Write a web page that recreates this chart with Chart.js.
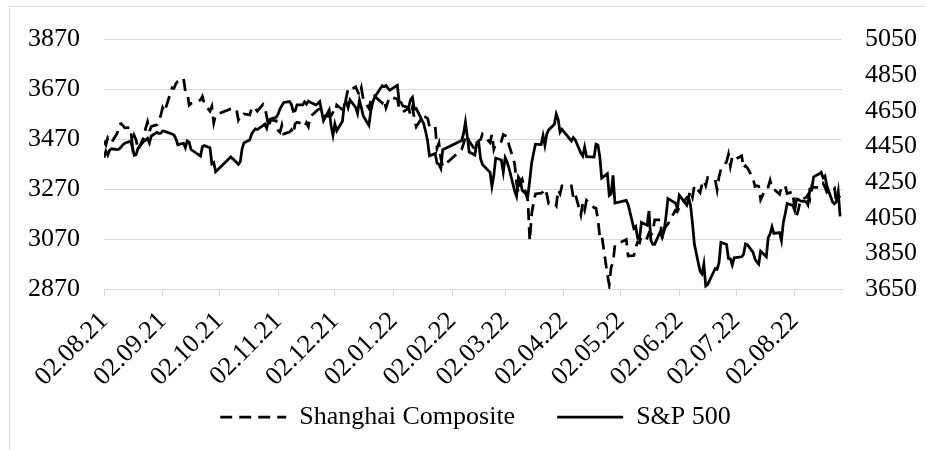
<!DOCTYPE html>
<html>
<head>
<meta charset="utf-8">
<script src="https://cdn.jsdelivr.net/npm/chart.js@4.4.1/dist/chart.umd.min.js"></script>
<style>
  html, body { margin: 0; padding: 0; background: #fff; }
  #wrap { width: 925px; height: 450px; }
</style>
</head>
<body>
<div id="wrap"><canvas id="myChart" width="925" height="450"></canvas></div>
<script>
// trading days where both markets were open (dd.mm.yy)
var dates = [
  '02.08.21','03.08.21','04.08.21','05.08.21','06.08.21','09.08.21','10.08.21','11.08.21','12.08.21','13.08.21','16.08.21','17.08.21','18.08.21','19.08.21','20.08.21','23.08.21','24.08.21','25.08.21','26.08.21','27.08.21','30.08.21','31.08.21',
  '01.09.21','02.09.21','03.09.21','07.09.21','08.09.21','09.09.21','10.09.21','13.09.21','14.09.21','15.09.21','16.09.21','17.09.21','22.09.21','23.09.21','24.09.21','27.09.21','28.09.21','29.09.21','30.09.21',
  '08.10.21','11.10.21','12.10.21','13.10.21','14.10.21','15.10.21','18.10.21','19.10.21','20.10.21','21.10.21','22.10.21','25.10.21','26.10.21','27.10.21','28.10.21','29.10.21',
  '01.11.21','02.11.21','03.11.21','04.11.21','05.11.21','08.11.21','09.11.21','10.11.21','11.11.21','12.11.21','15.11.21','16.11.21','17.11.21','18.11.21','19.11.21','22.11.21','23.11.21','24.11.21','26.11.21','29.11.21','30.11.21',
  '01.12.21','02.12.21','03.12.21','06.12.21','07.12.21','08.12.21','09.12.21','10.12.21','13.12.21','14.12.21','15.12.21','16.12.21','17.12.21','20.12.21','21.12.21','22.12.21','23.12.21','27.12.21','28.12.21','29.12.21','30.12.21','31.12.21',
  '04.01.22','05.01.22','06.01.22','07.01.22','10.01.22','11.01.22','12.01.22','13.01.22','14.01.22','18.01.22','19.01.22','20.01.22','21.01.22','24.01.22','25.01.22','26.01.22','27.01.22','28.01.22',
  '07.02.22','08.02.22','09.02.22','10.02.22','11.02.22','14.02.22','15.02.22','16.02.22','17.02.22','18.02.22','22.02.22','23.02.22','24.02.22','25.02.22','28.02.22',
  '01.03.22','02.03.22','03.03.22','04.03.22','07.03.22','08.03.22','09.03.22','10.03.22','11.03.22','14.03.22','15.03.22','16.03.22','17.03.22','18.03.22','21.03.22','22.03.22','23.03.22','24.03.22','25.03.22','28.03.22','29.03.22','30.03.22','31.03.22',
  '01.04.22','06.04.22','07.04.22','08.04.22','11.04.22','12.04.22','13.04.22','14.04.22','18.04.22','19.04.22','20.04.22','21.04.22','22.04.22','25.04.22','26.04.22','27.04.22','28.04.22','29.04.22',
  '05.05.22','06.05.22','09.05.22','10.05.22','11.05.22','12.05.22','13.05.22','16.05.22','17.05.22','18.05.22','19.05.22','20.05.22','23.05.22','24.05.22','25.05.22','26.05.22','27.05.22','31.05.22',
  '01.06.22','02.06.22','06.06.22','07.06.22','08.06.22','09.06.22','10.06.22','13.06.22','14.06.22','15.06.22','16.06.22','17.06.22','21.06.22','22.06.22','23.06.22','24.06.22','27.06.22','28.06.22','29.06.22','30.06.22',
  '01.07.22','05.07.22','06.07.22','07.07.22','08.07.22','11.07.22','12.07.22','13.07.22','14.07.22','15.07.22','18.07.22','19.07.22','20.07.22','21.07.22','22.07.22','25.07.22','26.07.22','27.07.22','28.07.22','29.07.22',
  '01.08.22','02.08.22','03.08.22','04.08.22','05.08.22','08.08.22','09.08.22','10.08.22','11.08.22','12.08.22','15.08.22','16.08.22','17.08.22','18.08.22','19.08.22','22.08.22','23.08.22','24.08.22','25.08.22','26.08.22'
];

var shanghai = [
  3464,3448,3477,3467,3458,3495,3530,3533,3525,3516,3517,3447,3485,3466,3427,3477,3514,3540,3502,3522,3528,3544,
  3567,3597,3581,3677,3675,3693,3703,3715,3663,3656,3607,3614,3628,3642,3613,3583,3602,3536,3568,
  3592,3591,3547,3561,3558,3572,3568,3594,3588,3595,3583,3610,3598,3562,3519,3547,
  3545,3506,3498,3527,3492,3499,3508,3492,3533,3539,3533,3522,3537,3521,3561,3582,3589,3592,3564,3562,3564,
  3577,3573,3608,3589,3595,3637,3673,3667,3681,3662,3648,3676,3632,3594,3625,3623,3643,3616,3630,3597,3620,3640,
  3632,3595,3586,3580,3594,3567,3598,3555,3521,3569,3558,3555,3522,3525,3434,3455,3394,3361,
  3429,3453,3480,3485,3462,3429,3446,3465,3469,3491,3457,3490,3430,3451,3462,
  3489,3485,3482,3448,3373,3294,3256,3296,3310,3224,3064,3171,3216,3251,3254,3260,3272,3250,3212,3215,3204,3267,3252,
  3283,3283,3237,3252,3167,3213,3187,3226,3196,3194,3151,3080,3087,2929,2886,2958,2975,3047,
  3068,3002,3004,3036,3059,3055,3084,3074,3094,3086,3097,3147,3147,3071,3107,3123,3130,3186,
  3182,3196,3237,3241,3264,3239,3285,3256,3289,3305,3285,3317,3307,3267,3320,3350,3380,3410,3362,3399,
  3388,3404,3355,3364,3356,3314,3281,3284,3282,3228,3278,3279,3305,3272,3270,3250,3277,3276,3283,3253,
  3260,3186,3164,3189,3227,3237,3248,3230,3282,3277,3277,3278,3293,3278,3258,3278,3277,3215,3246,3236
];

var sp500 = [
  4387,4423,4402,4429,4437,4432,4436,4447,4460,4468,4479,4448,4400,4405,4441,4479,4486,4496,4470,4509,4529,4523,
  4524,4537,4535,4520,4514,4493,4459,4469,4443,4481,4474,4433,4396,4449,4455,4443,4353,4360,4308,
  4391,4361,4350,4364,4438,4471,4486,4520,4537,4549,4545,4567,4575,4552,4596,4605,
  4614,4631,4660,4680,4697,4702,4686,4647,4650,4683,4683,4701,4688,4705,4698,4683,4691,4702,4595,4655,4567,
  4513,4577,4538,4592,4686,4701,4668,4712,4669,4635,4710,4669,4621,4568,4649,4697,4726,4791,4786,4793,4778,4766,
  4793,4701,4696,4677,4670,4713,4726,4659,4663,4577,4533,4483,4398,4410,4357,4350,4327,4432,
  4484,4522,4587,4504,4419,4402,4472,4475,4381,4349,4305,4226,4288,4385,4374,
  4306,4387,4364,4329,4201,4171,4278,4260,4204,4173,4262,4358,4412,4463,4461,4512,4456,4520,4543,4575,4632,4602,4530,
  4546,4481,4500,4488,4413,4397,4447,4393,4391,4463,4459,4394,4272,4297,4175,4184,4288,4132,
  4147,4123,3991,4001,3935,3930,4024,4008,4088,3923,3901,3901,3974,3941,3979,4058,4158,4132,
  4101,4177,4121,4161,4116,4018,3901,3750,3735,3790,3667,3675,3765,3760,3796,3912,3900,3822,3819,3785,
  3825,3831,3845,3903,3899,3855,3819,3802,3790,3863,3831,3937,3960,3999,3962,3967,3921,4024,4072,4130,
  4119,4091,4155,4152,4145,4140,4122,4210,4208,4280,4297,4305,4274,4284,4228,4138,4128,4141,4199,4058
];

var tickLabels = ['02.08.21','02.09.21','02.10.21','02.11.21','02.12.21','02.01.22','02.02.22',
                  '02.03.22','02.04.22','02.05.22','02.06.22','02.07.22','02.08.22'];
var seriesNames = ['Shanghai Composite', 'S&P 500'];
var leftRange = [2870, 3870];
var rightRange = [3650, 5050];
var yStep = 200;

// days since the first date, so the x axis is a real date axis
function dayIndex(s) {
  var p = s.split('.');
  return Math.round((Date.UTC(2000 + +p[2], p[1] - 1, +p[0]) - Date.UTC(2021, 7, 2)) / 86400000);
}

var xs = dates.map(dayIndex);
var tickDays = tickLabels.map(dayIndex);
var shPoints = xs.map(function (x, i) { return {x: x, y: shanghai[i]}; });
var spPoints = xs.map(function (x, i) { return {x: x, y: sp500[i]}; });

var FONT = "'Liberation Serif', 'Times New Roman', serif";
Chart.defaults.font.family = FONT;
Chart.defaults.font.size = 26;
Chart.defaults.color = '#000';

var frame = {
  id: 'frame',
  beforeDraw: function (chart) {
    var c = chart.ctx;
    c.save();
    c.fillStyle = '#fff';
    c.fillRect(0, 0, chart.width, chart.height);
    c.strokeStyle = '#d9d9d9';
    c.lineWidth = 1;
    c.strokeRect(9.5, 6.5, chart.width + 10, chart.height + 10);
    c.restore();
  }
};

// the x axis needs room for the slanted dates, so pull the legend up under them
var legendLift = {
  id: 'legendLift',
  afterLayout: function (chart) {
    chart.legend.top -= 35;
  }
};

var ctx = document.getElementById('myChart');
new Chart(ctx, {
  type: 'line',
  data: {
    datasets: [{
      label: seriesNames[0],
      data: shPoints,
      yAxisID: 'y',
      borderColor: '#000',
      borderWidth: 2.75,
      borderDash: [12, 7],
      pointRadius: 0,
      tension: 0,
      fill: false
    }, {
      label: seriesNames[1],
      data: spPoints,
      yAxisID: 'y1',
      borderColor: '#000',
      borderWidth: 2.75,
      pointRadius: 0,
      tension: 0,
      fill: false
    }]
  },
  options: {
    responsive: false,
    animation: false,
    layout: { padding: { left: 26, right: 0, top: 36, bottom: 0 } },
    plugins: {
      tooltip: { enabled: false },
      legend: {
        position: 'bottom',
        maxHeight: 53,
        labels: {
          usePointStyle: true,
          pointStyleWidth: 66,
          padding: 42,
          color: '#000',
          font: { size: 26 },
          generateLabels: function (chart) {
            return chart.data.datasets.map(function (ds, i) {
              return {
                text: ds.label,
                fillStyle: ds.borderColor,
                strokeStyle: ds.borderColor,
                lineWidth: ds.borderWidth,
                lineDash: ds.borderDash || [],
                pointStyle: 'line',
                fontColor: '#000',
                hidden: false,
                datasetIndex: i
              };
            });
          }
        }
      }
    },
    scales: {
      x: {
        type: 'linear',
        min: 0,
        max: xs[xs.length - 1] + 1,
        afterBuildTicks: function (scale) {
          scale.ticks = tickDays.map(function (d) { return {value: d}; });
        },
        afterFit: function (scale) { scale.height = 108; },
        grid: { drawOnChartArea: false, drawTicks: true, tickLength: 7, color: '#d9d9d9' },
        border: { display: true, color: '#d9d9d9' },
        ticks: {
          autoSkip: false,
          maxRotation: 45,
          minRotation: 45,
          padding: 10,
          callback: function (value) {
            var i = tickDays.indexOf(value);
            return i >= 0 ? tickLabels[i] : '';
          }
        }
      },
      y: {
        position: 'left',
        min: leftRange[0],
        max: leftRange[1],
        afterFit: function (scale) { scale.width = 78; },
        grid: { color: '#d9d9d9', drawTicks: false },
        border: { display: false },
        ticks: { stepSize: yStep, padding: 24, callback: function (v) { return String(v); } }
      },
      y1: {
        position: 'right',
        min: rightRange[0],
        max: rightRange[1],
        afterFit: function (scale) { scale.width = 83; },
        grid: { drawOnChartArea: false, drawTicks: false },
        border: { display: false },
        ticks: { stepSize: yStep, padding: 23, callback: function (v) { return String(v); } }
      }
    }
  },
  plugins: [frame, legendLift]
});
</script>
</body>
</html>
